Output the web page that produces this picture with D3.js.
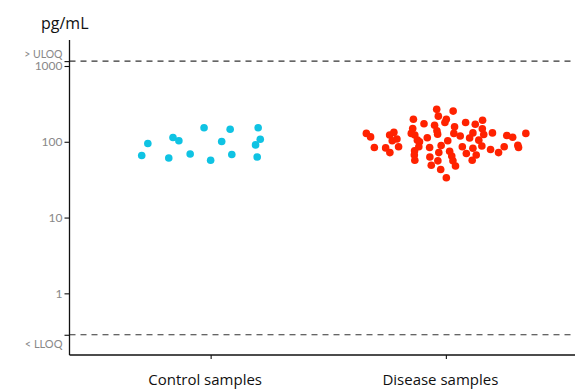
<!DOCTYPE html>
<html>
<head>
<meta charset="utf-8">
<script src="https://cdn.jsdelivr.net/npm/d3@7"></script>
<style>
  html, body { margin: 0; padding: 0; background: #fff; }
  svg { display: block; }
</style>
</head>
<body>
<svg id="chart" width="575" height="390"></svg>
<script>
// ---- data ----
const categories = ["Control samples", "Disease samples"];
const controlValues = [66, 95, 61, 114, 103, 69, 153, 57, 101, 146, 68, 91, 153, 108, 63];
const controlJitter = [-0.293, -0.267, -0.178, -0.160, -0.135, -0.087, -0.028, 0, 0.047, 0.083, 0.090, 0.191, 0.202, 0.211, 0.198];
const diseaseValues = [129, 116, 84, 83, 72, 123, 133, 103, 109, 86,
  198, 150, 129, 123, 105, 100, 86, 76, 67, 57,
  173, 113, 84, 63, 49, 56, 43, 33.5,
  268, 218, 165, 140, 126, 89, 72,
  254, 198, 180, 158, 129, 103, 75, 65, 56, 48,
  180, 119, 86, 70, 170, 131, 112, 82, 57, 67,
  192, 148, 125, 105, 88, 131, 79, 72, 86, 121, 115, 90, 84, 129];
const diseaseJitter = [-0.338, -0.320, -0.304, -0.256, -0.238, -0.239, -0.221, -0.228, -0.208, -0.201,
  -0.138, -0.141, -0.147, -0.132, -0.121, -0.112, -0.115, -0.133, -0.134, -0.132,
  -0.093, -0.079, -0.069, -0.068, -0.062, -0.034, -0.022, 0.002,
  -0.039, -0.032, -0.048, -0.038, -0.035, -0.020, -0.030,
  0.031, 0.002, -0.004, 0.037, 0.034, 0.008, 0.016, 0.025, 0.030, 0.041,
  0.084, 0.061, 0.070, 0.087, 0.125, 0.115, 0.101, 0.115, 0.112, 0.129,
  0.156, 0.155, 0.161, 0.140, 0.153, 0.198, 0.190, 0.224, 0.248, 0.259, 0.284, 0.306, 0.309, 0.340];
const yTicks = [1, 10, 100, 1000];
const ULOQ = 1160;
const LLOQ = 0.284;
const yLabel = "pg/mL";
const colors = ["#0fc3e3", "#ff2200"];

// ---- layout ----
const svg = d3.select("#chart");
const mLeft = 69.5, mTop = 40, mBottom = 355, mRight = 587;

const x = d3.scalePoint().domain(categories).range([mLeft, mRight]).padding(0.6);
const step = x.step();
const y = d3.scaleLog().domain([0.1536, 2203]).range([mBottom, mTop]);

// dashed reference lines
[ULOQ, LLOQ].forEach(v => {
  svg.append("line")
    .attr("x1", mLeft).attr("x2", 575)
    .attr("y1", y(v)).attr("y2", y(v))
    .attr("stroke", "#333").attr("stroke-width", 1.1)
    .attr("stroke-dasharray", "6,5");
});

// y axis
const yAxis = d3.axisLeft(y).tickValues(yTicks.concat([ULOQ, LLOQ]))
  .tickFormat(d => d === ULOQ || d === LLOQ ? "" : d3.format("d")(d))
  .tickSize(5).tickPadding(2);
const gy = svg.append("g").attr("transform", `translate(${mLeft},0)`).call(yAxis);
gy.select(".domain").attr("d", `M0,${mTop}V${mBottom}`).attr("stroke", "#111").attr("stroke-width", 1.3);
gy.selectAll(".tick line").attr("stroke", "#111").attr("stroke-width", 1.1);
gy.selectAll(".tick text").attr("fill", "#888").attr("font-family", "Lato, 'Liberation Sans', sans-serif").attr("font-size", 12);

svg.append("text").attr("x", mLeft - 7).attr("y", y(ULOQ) - 3.5)
  .attr("text-anchor", "end").attr("fill", "#888")
  .attr("font-family", "Lato, 'Liberation Sans', sans-serif").attr("font-size", 10.5)
  .text("> ULOQ");
svg.append("text").attr("x", mLeft - 7).attr("y", y(LLOQ) + 13)
  .attr("text-anchor", "end").attr("fill", "#888")
  .attr("font-family", "Lato, 'Liberation Sans', sans-serif").attr("font-size", 11)
  .text("< LLOQ");

// x axis
const xAxis = d3.axisBottom(x).tickSize(4).tickPadding(15);
const gx = svg.append("g").attr("transform", `translate(0,${mBottom})`).call(xAxis);
gx.select(".domain").attr("d", `M${mLeft},0H575`).attr("stroke", "#111").attr("stroke-width", 1.3);
gx.selectAll(".tick line").attr("stroke", "#111").attr("stroke-width", 1.1);
gx.selectAll(".tick text").attr("fill", "#111").attr("font-family", "'Open Sans', sans-serif")
  .attr("font-size", 15).attr("dx", -6);

// axis title
svg.append("text").attr("x", 41).attr("y", 29)
  .attr("font-family", "'Open Sans', sans-serif").attr("font-size", 16).attr("fill", "#111")
  .text(yLabel);

// points
const series = [
  { cat: categories[0], values: controlValues, jitter: controlJitter, color: colors[0] },
  { cat: categories[1], values: diseaseValues, jitter: diseaseJitter, color: colors[1] }
];
series.forEach(s => {
  svg.append("g").selectAll("circle")
    .data(s.values.map((v, i) => ({ v, j: s.jitter[i] })))
    .join("circle")
    .attr("cx", d => x(s.cat) + d.j * step)
    .attr("cy", d => y(d.v))
    .attr("r", 3.8)
    .attr("fill", s.color);
});
</script>
</body>
</html>
